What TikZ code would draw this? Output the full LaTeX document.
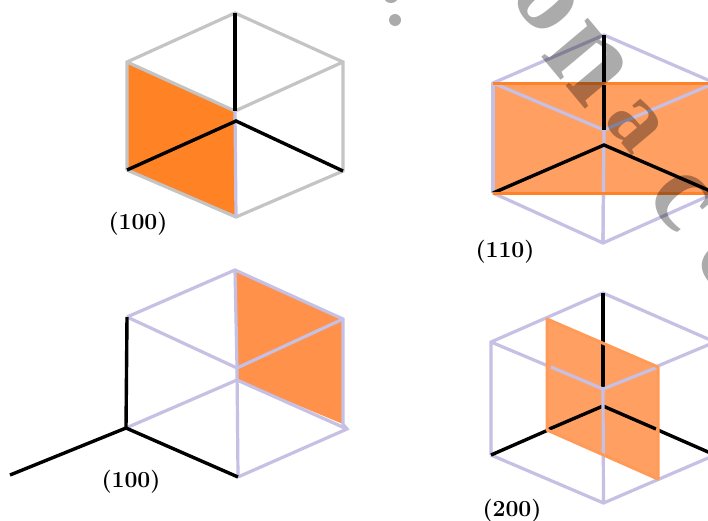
\documentclass[tikz,border=0pt]{standalone}
\usepackage{fontspec}
\newfontfamily\wmfont{Liberation Serif}
\definecolor{lav}{HTML}{C6C0E4}
\definecolor{silv}{HTML}{C4C4C4}
\definecolor{orA}{HTML}{FF8225}
\definecolor{orB}{HTML}{FF9F62}
\definecolor{orC}{HTML}{FF914A}
\definecolor{orE}{HTML}{FF8228}
\tikzset{
 edgeL/.style={draw=lav,line width=3.2pt},
 edgeS/.style={draw=silv,line width=3.2pt},
 axisk/.style={draw=black,line width=3.4pt},
 cap100/.style={font=\fontsize{23}{25}\selectfont\bfseries,inner sep=0pt},
 wmark/.style={text=black,text opacity=.33,inner sep=0pt,rotate=-50},
 wsize/.style={font=\wmfont\bfseries\fontsize{#1}{#1}\selectfont},
}
\begin{document}
\begin{tikzpicture}[x=1pt,y=-1pt]
\useasboundingbox (0,0) rectangle (708,520);
\clip (0,0) rectangle (708,520);
\fill[white] (0,0) rectangle (708,520);
% ---------- panel 1
\coordinate (at) at (235,13); \coordinate (alt) at (127,62); \coordinate (alb) at (127,170);
\coordinate (ab) at (236,217); \coordinate (arb) at (343,171); \coordinate (art) at (343,62);
\coordinate (ac) at (235,111); \coordinate (ak) at (236,121);
\fill[orA] (alt) -- (ac) -- (ab) -- (alb) -- cycle;
\draw[edgeS] (alb) -- (alt) -- (at) -- (art) -- (arb) -- (ab) -- (alb);
\draw[edgeS] (alt) -- (ac) -- (art);
\draw[edgeL] (ac) -- (ab);
\draw[axisk] (at) -- (ac);
\draw[axisk] (alb) -- (ak) -- (arb);
\node[cap100] (capa) at (138,224) {(100)};
% ---------- panel 2
\coordinate (bt) at (604,35); \coordinate (blt) at (493,83); \coordinate (blb) at (493,193);
\coordinate (bb) at (603,243); \coordinate (brb) at (715,193); \coordinate (brt) at (715,83);
\coordinate (bc) at (604,130); \coordinate (bk) at (604,145);
\draw[edgeL] (blb) -- (blt) -- (bt) -- (brt) -- (brb) -- (bb) -- (blb);
\draw[edgeL] (bc) -- (bb);
\fill[orB] (blt) -- (brt) -- (brb) -- (blb) -- cycle;
\draw[edgeL] (blt) -- (bc) -- (brt);
\draw[edgeL] (bc) -- (bb);
\draw[edgeL] (blb) -- (blt);
\draw[axisk] (bt) -- (bc);
\draw[axisk] (blb) -- (bk) -- (brb);
\draw[orE,line width=3pt] (blt) -- (brt) (blb) -- (brb);
\node[cap100] (capb) at (505,252) {(110)};
% ---------- panel 3
\coordinate (ct) at (235,270); \coordinate (clt) at (127,317); \coordinate (clb) at (126,428);
\coordinate (cb) at (238,477); \coordinate (crb) at (347,429); \coordinate (crt) at (343,319);
\coordinate (cc) at (237,368); \coordinate (ck) at (237,380); \coordinate (cf) at (10,475);
\coordinate (cre) at (343,424);
\fill[orC] (ct) -- (crt) -- (cre) -- (ck) -- (cc) -- cycle;
\draw[edgeL] (clt) -- (ct) -- (crt) -- (cre) -- (crb) -- (cb);
\draw[edgeL] (ct) -- (cc) -- (cb);
\draw[edgeL] (clt) -- (cc) -- (crt);
\draw[edgeL] (clb) -- (ck) -- (crb);
\draw[axisk] (clt) -- (clb) -- (cb);
\draw[axisk] (clb) -- (cf);
\node[cap100] (capc) at (131,482) {(100)};
% ---------- panel 4
\coordinate (dt) at (603,293); \coordinate (dlt) at (491,342); \coordinate (dlb) at (491,455);
\coordinate (db) at (603.5,503); \coordinate (drb) at (715,455); \coordinate (drt) at (715,342);
\coordinate (dc) at (603,389); \coordinate (dk) at (603,406);
\coordinate (pa) at (547,319); \coordinate (pb) at (658,367); \coordinate (pc) at (658,479); \coordinate (pd) at (547,430);
\coordinate (pq) at (551,367);
\draw[edgeL] (dlb) -- (dlt) -- (dt) -- (drt) -- (drb) -- (db) -- (dlb);
\draw[edgeL] (dlt) -- (dc) -- (drt);
\draw[axisk] (dlb) -- (dk) -- (drb);
\fill[orB] (pa) -- (pb) -- (pc) -- (pd) -- cycle;
\draw[axisk] (dt) -- (dc);
\draw[axisk] (pd) -- (dk) -- (656,429);
\draw[edgeL] (pq) -- (dc) -- (pb);
\draw[edgeL] (dc) -- (db);
\draw[orB!85!orE,line width=3pt,line join=round] (pa) -- (pb) -- (pc) -- (pd) -- cycle;
\node[cap100] (capd) at (512,511) {(200)};
% ---------- watermark
\node[wmark,wsize=115] (wo) at (546,1) {o};
\node[wmark,wsize=132] (wn) at (587,63) {n};
\node[wmark,wsize=95] (wa) at (634,125) {a};
\node[wmark,wsize=115] (wc) at (681,200) {c};
\node[wmark,wsize=115] (we) at (728,262) {e};
\fill[black,opacity=.33] (395,20) circle (6pt);
\fill[black,opacity=.33] (391,-3) ellipse (7pt and 6pt);
\end{tikzpicture}
\end{document}
